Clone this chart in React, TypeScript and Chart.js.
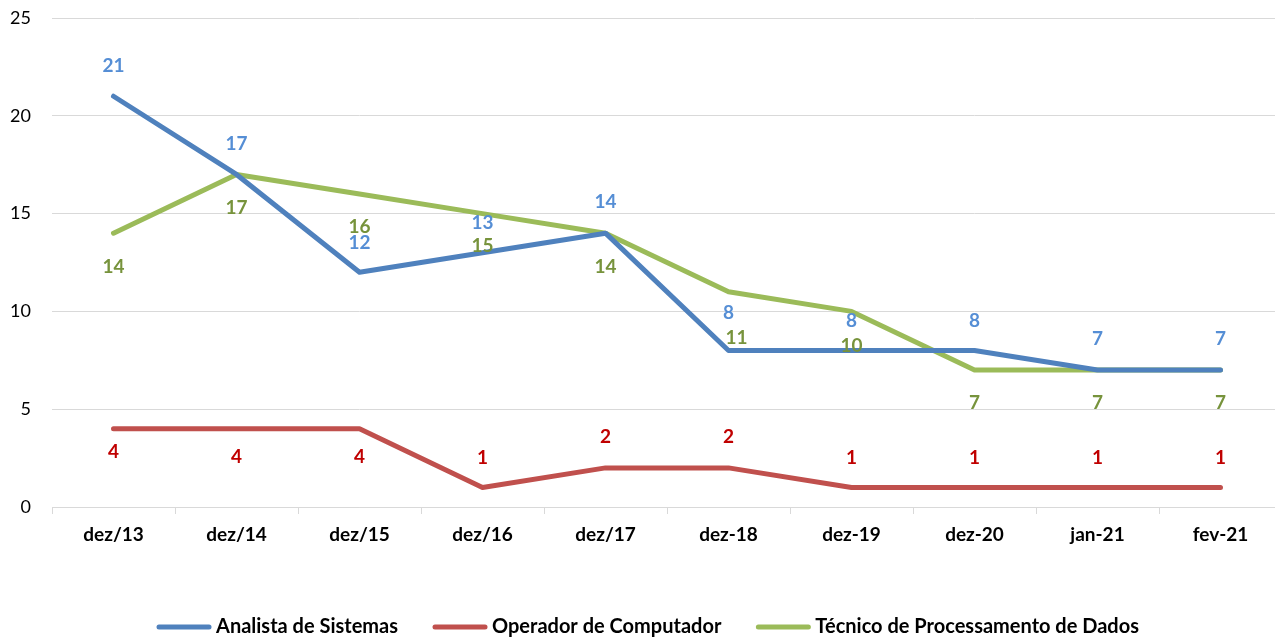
import React, { useEffect, useRef } from 'react';
import { Chart, registerables } from 'chart.js';

Chart.register(...registerables);

const categories = ['dez/13', 'dez/14', 'dez/15', 'dez/16', 'dez/17', 'dez-18', 'dez-19', 'dez-20', 'jan-21', 'fev-21'];
const analistaValues = [21, 17, 12, 13, 14, 8, 8, 8, 7, 7];
const operadorValues = [4, 4, 4, 1, 2, 2, 1, 1, 1, 1];
const tecnicoValues = [14, 17, 16, 15, 14, 11, 10, 7, 7, 7];
const yTickValues = [0, 5, 10, 15, 20, 25];

// label placement (pixel offset from each point: negative = above, positive = below)
const analistaLabelOffsets = [-30, -31, -29, -30, -31, -38, -30, -30, -31, -31];
const operadorLabelOffsets = [23, 28, 28, -30, -31, -31, -30, -30, -30, -30];
const tecnicoLabelOffsets = [34, 33, 33, 32, 34, 46, 34, 33, 33, 33];
const tecnicoLabelShiftX = [0, 0, 0, 0, 0, 8, 0, 0, 0, 0];

const FONT = 'Lato, Carlito, Calibri, "Open Sans", sans-serif';

const dataLabelPlugin = {
  id: 'dataLabels',
  afterDatasetsDraw(chart: any) {
    const ctx = chart.ctx;
    ctx.save();
    ctx.font = `bold 19px ${FONT}`;
    ctx.textAlign = 'center';
    ctx.textBaseline = 'middle';
    chart.data.datasets.forEach((ds: any, di: number) => {
      const meta = chart.getDatasetMeta(di);
      ctx.fillStyle = ds.labelColor;
      meta.data.forEach((pt: any, i: number) => {
        const dx = ds.labelShiftX ? ds.labelShiftX[i] : 0;
        ctx.fillText(String(ds.data[i]), pt.x + dx, pt.y + ds.labelOffsets[i]);
      });
    });
    ctx.restore();
  },
};

const legendPlugin = {
  id: 'customLegend',
  afterDraw(chart: any) {
    const ctx = chart.ctx;
    ctx.save();
    ctx.font = `bold 20px ${FONT}`;
    const lineW = 54;
    const gap = 5;
    const itemGap = 35;
    const items = chart.data.datasets.map((ds: any) => ({
      text: ds.label,
      color: ds.borderColor,
      w: lineW + gap + ctx.measureText(ds.label).width,
    }));
    const total = items.reduce((s: number, it: any) => s + it.w, 0) + itemGap * (items.length - 1);
    let x = (chart.width - total) / 2 + 3;
    const y = chart.height - 10;
    items.forEach((it: any) => {
      ctx.strokeStyle = it.color;
      ctx.lineWidth = 5;
      ctx.lineCap = 'round';
      ctx.beginPath();
      ctx.moveTo(x + 2, y);
      ctx.lineTo(x + lineW - 2, y);
      ctx.stroke();
      ctx.fillStyle = '#000';
      ctx.textAlign = 'left';
      ctx.textBaseline = 'middle';
      ctx.fillText(it.text, x + lineW + gap, y);
      x += it.w + itemGap;
    });
    ctx.restore();
  },
};

export default function App() {
  const ref = useRef<HTMLCanvasElement | null>(null);
  useEffect(() => {
    document.body.style.margin = '0';
    document.body.style.overflow = 'hidden';
    if (!ref.current) return;
    const chart = new Chart(ref.current, {
      type: 'line',
      data: {
        labels: categories,
        datasets: [
          {
            label: 'Analista de Sistemas',
            data: analistaValues,
            borderColor: '#4F81BD',
            labelColor: '#558ED5',
            labelOffsets: analistaLabelOffsets,
          },
          {
            label: 'Operador de Computador',
            data: operadorValues,
            borderColor: '#C0504D',
            labelColor: '#C00000',
            labelOffsets: operadorLabelOffsets,
          },
          {
            label: 'Técnico de Processamento de Dados',
            data: tecnicoValues,
            borderColor: '#9BBB59',
            labelColor: '#77933C',
            labelOffsets: tecnicoLabelOffsets,
            labelShiftX: tecnicoLabelShiftX,
          },
        ].map((d: any) => ({
          ...d,
          borderWidth: 5,
          pointRadius: 0,
          pointHoverRadius: 0,
          tension: 0,
          fill: false,
          borderCapStyle: 'round',
          borderJoinStyle: 'round',
        })) as any,
      },
      options: {
        animation: false,
        responsive: false,
        maintainAspectRatio: false,
        layout: { padding: { top: 18, right: 8, bottom: 0, left: 0 } },
        plugins: {
          legend: { display: false },
          tooltip: { enabled: false },
        },
        scales: {
          x: {
            offset: true,
            grid: {
              offset: true,
              drawOnChartArea: false,
              drawTicks: true,
              tickLength: 7,
              color: '#D9D9D9',
            },
            border: { display: true, color: '#D9D9D9', width: 1 },
            ticks: {
              color: '#000',
              padding: 9,
              font: { family: FONT, size: 19, weight: 'bold' },
              maxRotation: 0,
              autoSkip: false,
            },
            afterFit: (scale: any) => {
              scale.height = 130;
            },
          },
          y: {
            min: 0,
            max: 25,
            afterBuildTicks: (scale: any) => {
              scale.ticks = yTickValues.map((v) => ({ value: v }));
            },
            grid: { color: '#D9D9D9', drawTicks: false, lineWidth: 1 },
            border: { display: false },
            ticks: {
              color: '#000',
              padding: 21,
              font: { family: FONT, size: 18 },
            },
            afterFit: (scale: any) => {
              scale.width = 52;
              scale.paddingTop = 0;
              scale.paddingBottom = 0;
            },
          },
        },
      } as any,
      plugins: [dataLabelPlugin, legendPlugin],
    });
    return () => chart.destroy();
  }, []);
  return (
    <div style={{ width: 1290, height: 637 }}>
      <canvas ref={ref} width={1290} height={637} style={{ display: 'block' }} />
    </div>
  );
}
